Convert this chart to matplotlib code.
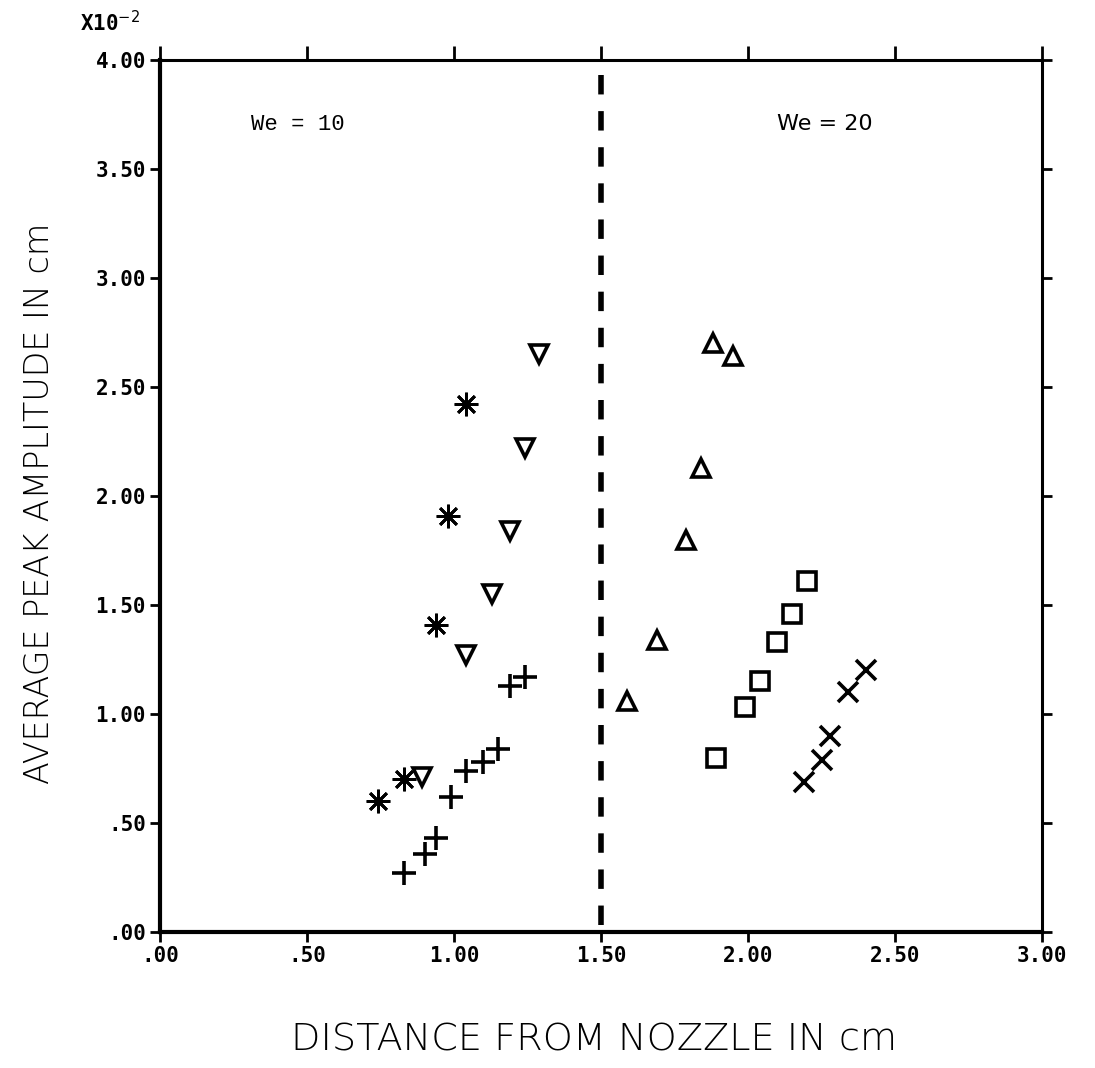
import matplotlib
matplotlib.use("Agg")
import matplotlib.pyplot as plt

# Data (units: x in cm, y in 1e-2 cm)
ast_x = [0.74, 0.83, 0.94, 0.98, 1.04]
ast_y = [0.60, 0.70, 1.41, 1.91, 2.42]

tdn_x = [0.89, 1.04, 1.13, 1.19, 1.24, 1.29]
tdn_y = [0.71, 1.27, 1.55, 1.84, 2.22, 2.65]

plus_x = [0.83, 0.90, 0.94, 0.99, 1.04, 1.10, 1.15, 1.19, 1.24]
plus_y = [0.27, 0.36, 0.43, 0.62, 0.74, 0.78, 0.84, 1.13, 1.17]

tup_x = [1.59, 1.69, 1.79, 1.84, 1.88, 1.95]
tup_y = [1.06, 1.34, 1.80, 2.13, 2.70, 2.64]

sq_x = [1.89, 1.99, 2.04, 2.10, 2.15, 2.20]
sq_y = [0.80, 1.03, 1.15, 1.33, 1.46, 1.61]

xx_x = [2.19, 2.25, 2.28, 2.34, 2.40]
xx_y = [0.69, 0.79, 0.90, 1.10, 1.20]

xticks = [0, 0.5, 1.0, 1.5, 2.0, 2.5, 3.0]
xticklabels = [".00", ".50", "1.00", "1.50", "2.00", "2.50", "3.00"]
yticks = [0, 0.5, 1.0, 1.5, 2.0, 2.5, 3.0, 3.5, 4.0]
yticklabels = [".00", ".50", "1.00", "1.50", "2.00", "2.50", "3.00", "3.50", "4.00"]

fig = plt.figure(figsize=(10.95, 10.68), dpi=100)
ax = fig.add_axes([160/1095, 1-932/1068, (1042-160)/1095, (932-60)/1068])

k = dict(color="black", linestyle="none")
ax.plot(ast_x, ast_y, marker=(8, 2, 0), ms=17, mew=2.0, **k)
ax.plot(tdn_x, tdn_y, marker="v", ms=13, mfc="none", mew=2.6, **k)
ax.plot(plus_x, plus_y, marker="+", ms=17, mew=2.6, **k)
ax.plot(tup_x, tup_y, marker="^", ms=13, mfc="none", mew=2.6, **k)
ax.plot(sq_x, sq_y, marker="s", ms=13, mfc="none", mew=2.6, **k)
ax.plot(xx_x, xx_y, marker="x", ms=14, mew=2.6, **k)

ax.plot([1.5, 1.5], [0.03, 3.96], color="black", lw=4, dashes=(3.5, 3))

ax.set_xlim(0, 3.0)
ax.set_ylim(0, 4.0)
ax.set_xticks(xticks)
ax.set_xticklabels(xticklabels)
ax.set_yticks(yticks)
ax.set_yticklabels(yticklabels)

mono = "DejaVu Sans Mono"
for lab in ax.get_xticklabels() + ax.get_yticklabels():
    lab.set_family(mono)
    lab.set_fontsize(15)
    lab.set_fontweight("bold")

ax.tick_params(axis="both", direction="out", length=7, width=2, pad=3)
ax.tick_params(top=True, right=True)
for t in ax.xaxis.get_major_ticks():
    t.tick2line.set_markersize(10)
ax.spines["left"].set_linewidth(3)
ax.spines["bottom"].set_linewidth(3)
ax.spines["top"].set_linewidth(2.2)
ax.spines["right"].set_linewidth(2.2)

ax.text(0.31, 3.68, "We = 10", family="Liberation Mono", fontsize=16)
ax.text(2.10, 3.68, "We = 20", family="DejaVu Sans", fontsize=16)

fig.text(80/1095, 1-35/1068, r"X10$^{-2}$", family=mono, fontsize=15,
         fontweight="bold", va="bottom")

fig.text(594/1095, 1-1040/1068, "DISTANCE FROM NOZZLE IN cm",
         family="DejaVu Sans", fontweight="light", fontsize=27.5,
         ha="center", va="center")
fig.text(40/1095, 1-503/1068, "AVERAGE PEAK AMPLITUDE IN cm",
         family="DejaVu Sans", fontweight="light", fontsize=24,
         ha="center", va="center", rotation=90)

fig.savefig("out.png", dpi=100)
